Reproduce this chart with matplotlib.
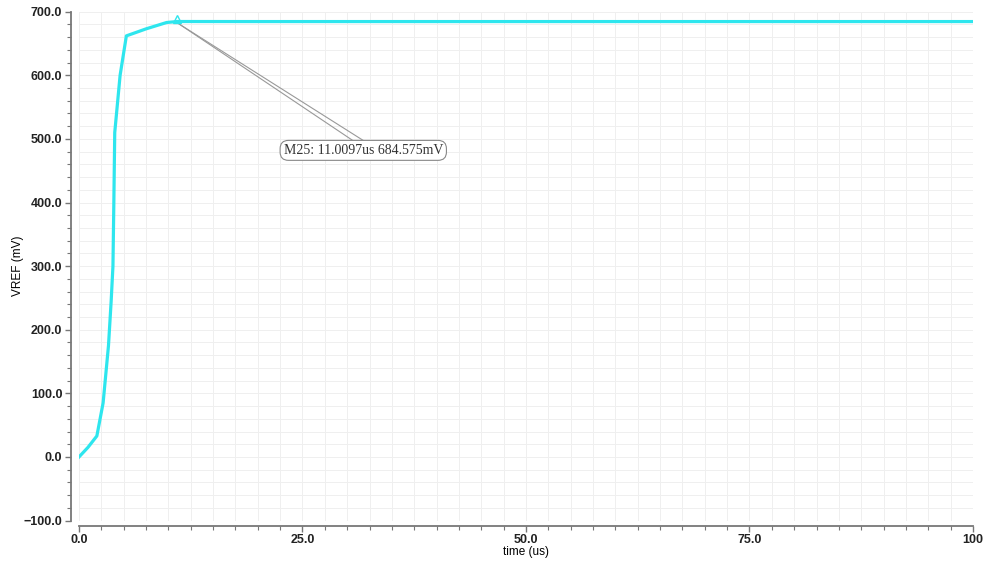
import matplotlib.pyplot as plt
from matplotlib.ticker import MultipleLocator

# VREF startup transient
time_us = [0.0, 1.0, 2.0, 2.7, 3.3, 3.6, 3.8, 3.9, 4.0, 4.2, 4.6, 5.3, 7.5, 9.8, 11.0, 20.0, 50.0, 100.0]
vref_mv = [0.0, 15.0, 33.0, 85.0, 175.0, 245.0, 300.0, 400.0, 510.0, 540.0, 600.0, 662.0, 673.0, 683.0, 684.575, 684.5, 684.5, 684.5]

marker_t = 11.0097
marker_v = 684.575
marker_label = "M25: 11.0097us 684.575mV"

x_ticks = [0, 25, 50, 75, 100]
x_labels = ["0.0", "25.0", "50.0", "75.0", "100"]
y_ticks = [-100, 0, 100, 200, 300, 400, 500, 600, 700]
y_labels = ["\u2212100.0", "0.0", "100.0", "200.0", "300.0", "400.0", "500.0", "600.0", "700.0"]

fig = plt.figure(figsize=(9.86, 5.68), dpi=100)
ax = fig.add_axes([0.0801, 0.0835, 0.9067, 0.8959])

ax.plot(time_us, vref_mv, color="#2ee6ee", lw=2.3, zorder=3)
ax.plot([marker_t], [marker_v + 4], marker="^", ms=6, mfc="none", mec="#2ee6ee", mew=1.0, zorder=4)

# marker callout: two thin leader lines into a rounded box
box_t, box_v = 31.8, 482
for end_t in (31.0, 32.2):
    ax.plot([marker_t + 0.2, end_t], [marker_v - 4, 494], color="#999999", lw=0.8, zorder=2)
ax.text(box_t, box_v, marker_label, ha="center", va="center", fontsize=10,
        family="Liberation Serif", color="#333333", zorder=5,
        bbox=dict(boxstyle="round,pad=0.25,rounding_size=0.6", fc="white", ec="#888888", lw=0.8))

ax.set_xlim(0, 100)
ax.set_ylim(-100, 700)
ax.set_xticks(x_ticks)
ax.set_xticklabels(x_labels)
ax.set_yticks(y_ticks)
ax.set_yticklabels(y_labels)
ax.xaxis.set_minor_locator(MultipleLocator(2.5))
ax.yaxis.set_minor_locator(MultipleLocator(20))

ax.grid(which="both", color="#efefef", lw=0.7)
ax.set_axisbelow(True)

for s in ("top", "right"):
    ax.spines[s].set_visible(False)
ax.spines["left"].set_position(("outward", 6))
ax.spines["bottom"].set_position(("outward", 4))
for s in ("left", "bottom"):
    ax.spines[s].set_color("#777777")
    ax.spines[s].set_linewidth(1.3)

ax.tick_params(which="major", length=4, width=1, color="#777777", pad=2)
ax.tick_params(which="minor", length=3, width=0.8, color="#777777")
for lab in ax.get_xticklabels() + ax.get_yticklabels():
    lab.set_fontsize(9)
    lab.set_fontweight("bold")
    lab.set_color("#222222")
    lab.set_family("Liberation Sans")

ax.set_xlabel("time (us)", fontsize=8.5, family="Liberation Sans", labelpad=0)
ax.set_ylabel("VREF (mV)", fontsize=8.5, family="Liberation Sans", labelpad=0)

fig.savefig("out.png", dpi=100)
